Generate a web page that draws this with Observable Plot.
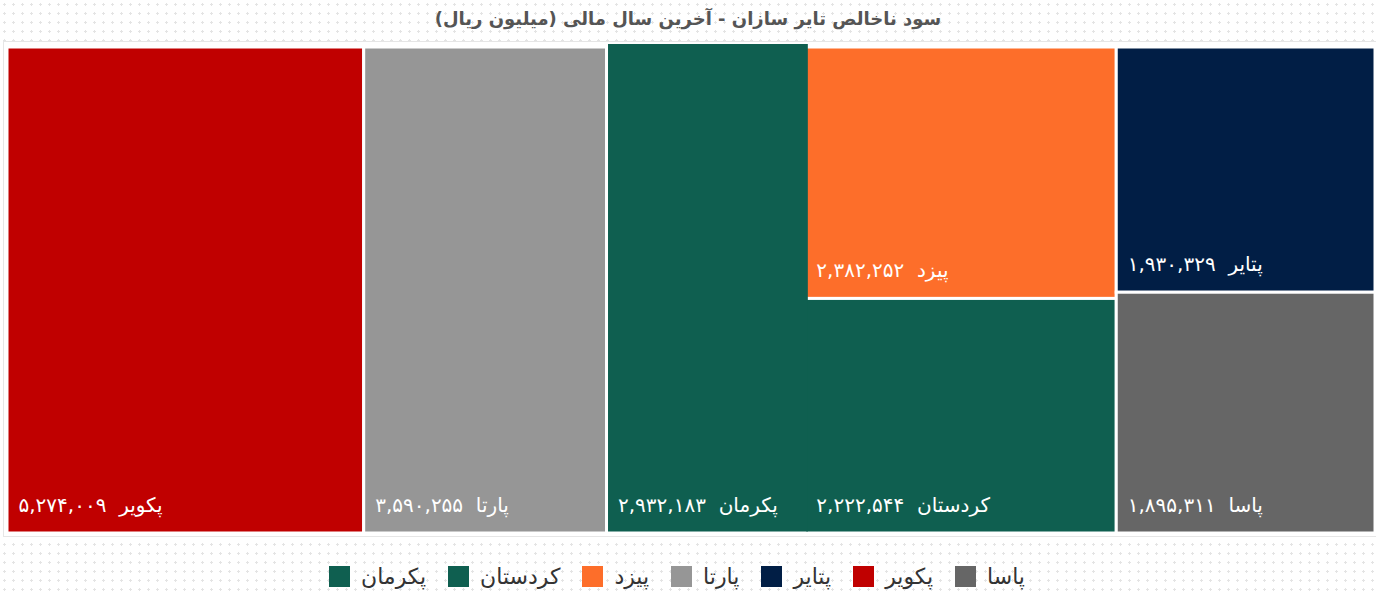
<!DOCTYPE html>
<html><head><meta charset="utf-8">
<script src="https://cdn.jsdelivr.net/npm/d3@7"></script>
<script src="https://cdn.jsdelivr.net/npm/@observablehq/plot@0.6"></script>
<style>
html,body{margin:0;padding:0}
body{width:1376px;height:596px;overflow:hidden;font-family:"DejaVu Sans",sans-serif;
 background:#fff radial-gradient(circle,#e4e4e4 1px,transparent 1.4px) 0 0/9px 9px;}
#title{height:42px;line-height:38px;text-align:center;font-weight:bold;font-size:18px;color:#555;direction:rtl}
#chart svg{display:block;margin-left:4px;background:#fff;outline:1px solid #e6e6e6}
#legend{margin-top:24px;display:flex;justify-content:center}
#legend > div{justify-content:center !important;margin:0 !important}
</style></head>
<body>
<div id="title">سود ناخالص تایر سازان - آخرین سال مالی (میلیون ریال)</div>
<div id="chart"></div>
<div id="legend"></div>
<script>
const names  = ["پکویر","پارتا","پکرمان","پیزد","کردستان","پتایر","پاسا"];
const values = [5274009,3590255,2932183,2382252,2222544,1930329,1895311];
const groups = [1,2,3,4,4,5,5];
const colors = ["#C00000","#969696","#0F5F50","#FD6E2A","#0F5F50","#011E45","#666666"];
const legendOrder = ["پکرمان","کردستان","پیزد","پارتا","پتایر","پکویر","پاسا"];

const fa = s => s.replace(/\d/g, d => "۰۱۲۳۴۵۶۷۸۹"[+d]);
const fmt = v => fa(d3.format(",")(v));
const colorOf = Object.fromEntries(names.map((n,i)=>[n,colors[i]]));

const items = names.map((n,i)=>({name:n, value:values[i], group:groups[i]}));
const groupIds = [...new Set(groups)];
const root = d3.hierarchy({children: groupIds.map(g=>({children: items.filter(d=>d.group===g)}))})
  .sum(d=>d.value||0);
d3.treemap().tile(d3.treemapSliceDice).size([1,1]).round(false)(root);
const cells = root.leaves().map(l=>({name:l.data.name, value:l.data.value, x0:l.x0, x1:l.x1, y0:l.y0, y1:l.y1}));

const chart = Plot.plot({
  width:1372, height:494,
  marginLeft:3, marginRight:1, marginTop:5, marginBottom:3,
  x:{domain:[0,1], axis:null},
  y:{domain:[0,1], axis:null, reverse:true},
  color:{domain:names, range:colors},
  style:{fontFamily:"DejaVu Sans, sans-serif", background:"#fff"},
  marks:[
    Plot.rect(cells.filter(d=>d.name!=="پکرمان"), {x1:"x0", x2:"x1", y1:"y0", y2:"y1", fill:"name", stroke:"white", strokeWidth:3}),
    Plot.rect(cells.filter(d=>d.name==="پکرمان"), {x1:"x0", x2:"x1", y1:"y0", y2:"y1", fill:"name",
      insetLeft:1.5, insetRight:-3, insetTop:-3, insetBottom:1.5}),
    Plot.text(cells, {x:"x0", y:"y1", text:d=>d.name+"  "+fmt(d.value), fill:"white", textAnchor:"start", dx:11, dy:-28, fontSize:20})
  ]
});
document.getElementById("chart").append(chart);

const leg = Plot.legend({
  color:{domain:legendOrder, range:legendOrder.map(n=>colorOf[n])},
  legend:"swatches", swatchSize:21,
  style:{fontSize:"22px", fontFamily:"DejaVu Sans, sans-serif", color:"#333"}
});
document.getElementById("legend").append(leg);
</script>
</body></html>
